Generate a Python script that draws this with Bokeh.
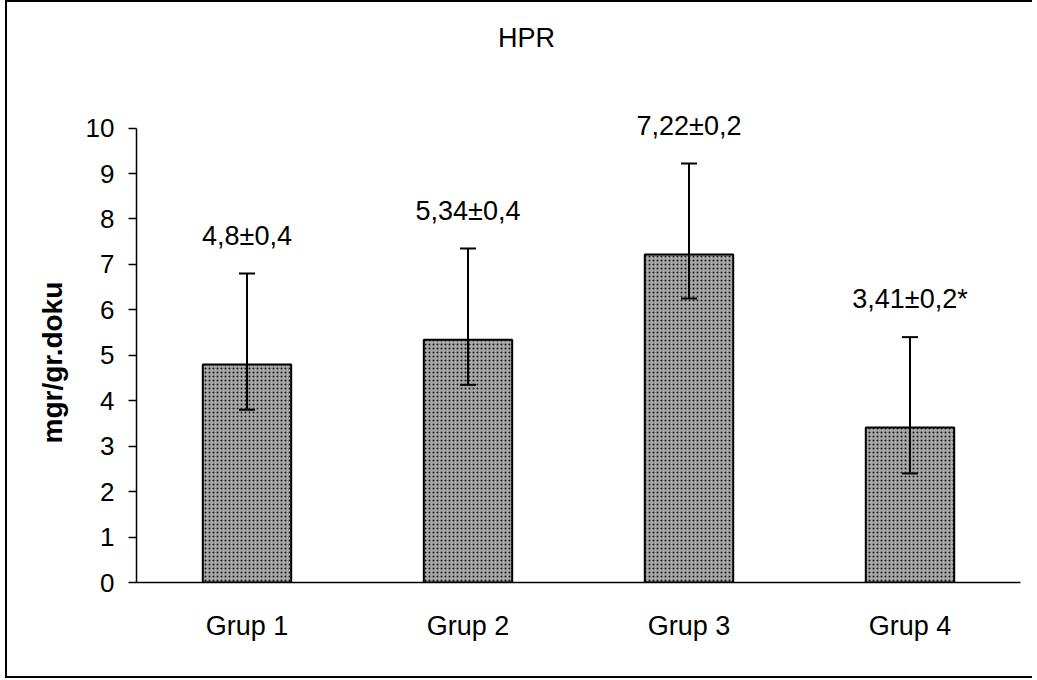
from bokeh.plotting import figure
from bokeh.models import (ColumnDataSource, Whisker, LabelSet, Label, Title,
                          FactorRange, Range1d, TeeHead, FixedTicker)
from bokeh.core.properties import value
from bokeh.embed import file_html
from bokeh.resources import INLINE

categories = ["Grup 1", "Grup 2", "Grup 3", "Grup 4"]
means = [4.8, 5.34, 7.22, 3.41]
upper = [6.8, 7.35, 9.22, 5.4]
lower = [3.8, 4.35, 6.25, 2.4]
labels = ["4,8±0,4", "5,34±0,4", "7,22±0,2", "3,41±0,2*"]
y_ticks = [0, 1, 2, 3, 4, 5, 6, 7, 8, 9, 10]
title_text = "HPR"
y_label = "mgr/gr.doku"

FONT = "Liberation Sans"

src = ColumnDataSource(dict(cat=categories, mean=means, upper=upper,
                            lower=lower, label=labels))

p = figure(x_range=FactorRange(*categories), y_range=Range1d(0, 12.5),
           frame_width=884, frame_height=568,
           min_border_left=129, min_border_right=12,
           min_border_top=12, min_border_bottom=94,
           output_backend="svg", toolbar_location=None)
p.styles = {"border-top": "2px solid black", "border-left": "2px solid black",
            "border-bottom": "2px solid black",
            "border-right": "0px none transparent",
            "outline": "none", "box-shadow": "none",
            "margin-left": "5px"}
p.background_fill_color = "white"
p.border_fill_color = "white"
p.outline_line_color = None
p.grid.grid_line_color = None

p.vbar(x="cat", top="mean", width=0.4, source=src,
       fill_color="#a8a8a8", line_color="black", line_width=2,
       hatch_pattern=".", hatch_color="#111111", hatch_scale=4, hatch_weight=1.5)

whisk = Whisker(base="cat", upper="upper", lower="lower", source=src,
                line_width=2, line_color="black", level="overlay",
                upper_head=TeeHead(size=16, line_width=2, line_color="black"),
                lower_head=TeeHead(size=16, line_width=2, line_color="black"))
p.add_layout(whisk)

ls = LabelSet(x="cat", y="upper", text="label", source=src, y_offset=38,
              text_align="center", text_baseline="middle",
              text_font=value(FONT), text_font_size=value("27px"),
              text_color="black")
p.add_layout(ls)

# chart title, placed above the top of the value axis
title = Label(x=len(categories) / 2, y=y_ticks[-1], x_offset=-52, y_offset=90,
              text=title_text, text_align="center", text_baseline="middle",
              text_font=FONT, text_font_size="27px", text_color="black")
p.add_layout(title)

# y axis
ya = p.yaxis[0]
ya.ticker = FixedTicker(ticks=y_ticks)
ya.bounds = (y_ticks[0], y_ticks[-1])
ya.major_label_text_font = FONT
ya.major_label_text_font_size = "26px"
ya.major_label_text_color = "black"
ya.major_label_standoff = 14
ya.major_tick_out = 8
ya.major_tick_in = 0
ya.minor_tick_line_color = None
ya.axis_line_width = 1.5
ya.major_tick_line_width = 1.5

# value-axis title, aligned along the 0..10 part of the axis
ytitle = Title(text=y_label, align="left", offset=139, standoff=30,
               text_font=FONT, text_font_size="28px", text_font_style="bold",
               text_color="black")
p.add_layout(ytitle, "left")

xa = p.xaxis[0]
xa.major_label_text_font = FONT
xa.major_label_text_font_size = "27px"
xa.major_label_text_color = "black"
xa.major_label_standoff = 22
xa.major_tick_line_color = None
xa.minor_tick_line_color = None
xa.axis_line_width = 1.5

open("out.html", "w").write(file_html(p, INLINE))
